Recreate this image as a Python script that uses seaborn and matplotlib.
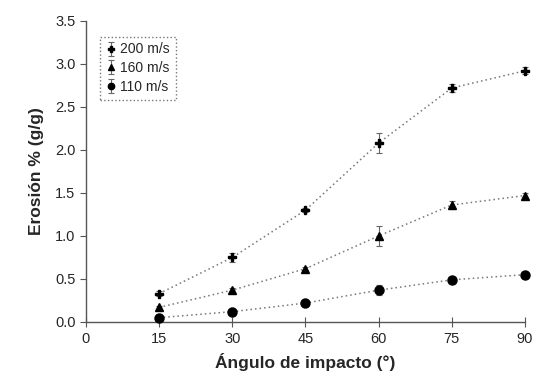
import numpy as np
import pandas as pd
import seaborn as sns
import matplotlib.pyplot as plt

angles = [15, 30, 45, 60, 75, 90]
speeds = ['200 m/s', '160 m/s', '110 m/s']
ero_200 = [0.33, 0.75, 1.30, 2.08, 2.72, 2.92]
ero_160 = [0.17, 0.37, 0.62, 1.00, 1.36, 1.47]
ero_110 = [0.05, 0.12, 0.22, 0.37, 0.49, 0.55]
err_200 = [0.03, 0.05, 0.02, 0.12, 0.05, 0.04]
err_160 = [0.02, 0.03, 0.02, 0.12, 0.05, 0.03]
err_110 = [0.03, 0.03, 0.03, 0.06, 0.02, 0.02]

sns.set_style('ticks')
plt.rcParams['font.family'] = ['Liberation Sans', 'DejaVu Sans']

fig = plt.figure(figsize=(5.34, 3.87), dpi=100)
ax = fig.add_axes([0.161, 0.168, 0.822, 0.778])

markers = ['P', '^', 'o']
sizes = [6, 6, 6.5]
vals = [ero_200, ero_160, ero_110]
errs = [err_200, err_160, err_110]

for name, m, s, y, e in zip(speeds, markers, sizes, vals, errs):
    d = pd.DataFrame({'angle': angles, 'ero': y})
    sns.lineplot(data=d, x='angle', y='ero', ax=ax, color='#777777',
                 linestyle=(0, (1, 2)), linewidth=1.1, clip_on=False)
    ax.errorbar(angles, y, yerr=e, fmt=m, color='black', ms=s,
                ecolor='#666666', elinewidth=0.8, capsize=2, capthick=0.8,
                clip_on=False, zorder=5, label=name)

ax.set_xlim(0, 90)
ax.set_ylim(0, 3.5)
ax.set_xticks([0, 15, 30, 45, 60, 75, 90])
ax.set_yticks(np.arange(0, 3.51, 0.5))
ax.set_yticklabels([f'{v:.1f}' for v in np.arange(0, 3.51, 0.5)])
ax.tick_params(axis='x', direction='inout', length=7, labelsize=10.5, color='#555555', pad=4)
ax.tick_params(axis='y', direction='out', length=4, labelsize=10.5, color='#555555')
for sp in ['top', 'right']:
    ax.spines[sp].set_visible(False)
for sp in ['left', 'bottom']:
    ax.spines[sp].set_color('#555555')
    ax.spines[sp].set_linewidth(1.0)

ax.set_xlabel('Ángulo de impacto (°)', fontsize=12.5, fontweight='bold', labelpad=5)
ax.set_ylabel('Erosión % (g/g)', fontsize=12.5, fontweight='bold', labelpad=8)

h, l = ax.get_legend_handles_labels()
leg = ax.legend(h, l, loc='upper left', bbox_to_anchor=(0.015, 0.97), fontsize=10,
                frameon=True, fancybox=False, handletextpad=0.3, handlelength=0.8,
                borderpad=0.4, labelspacing=0.35, markerscale=0.7)
leg.get_frame().set_edgecolor('#555555')
leg.get_frame().set_linestyle(':')
leg.get_frame().set_linewidth(1.0)

fig.savefig('out.png', dpi=100)
